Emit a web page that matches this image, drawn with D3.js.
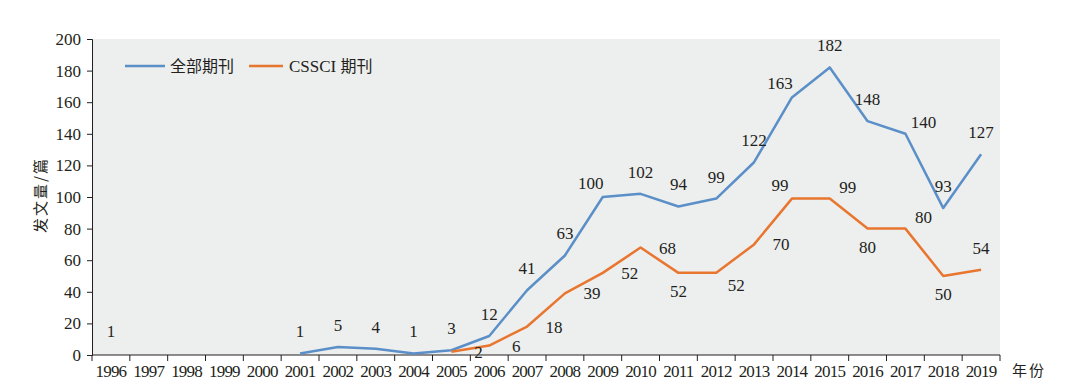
<!DOCTYPE html>
<html lang="zh">
<head>
<meta charset="UTF-8">
<title>发文量</title>
<style>
  body { margin: 0; background: #fff; }
  .chart text { font-family: "Liberation Serif", "Noto Sans CJK SC", serif; fill: #231f20; }
  .axis path, .axis line { stroke: #231f20; }
</style>
</head>
<body>
<svg class="chart"></svg>
<script src="https://d3js.org/d3.v7.min.js"></script>
<script>
// years on the x axis
var years = ["1996","1997","1998","1999","2000","2001","2002","2003","2004","2005","2006","2007",
             "2008","2009","2010","2011","2012","2013","2014","2015","2016","2017","2018","2019"];
// 全部期刊 (null = no data)
var allJournals = [1, null, null, null, null, 1, 5, 4, 1, 3, 12, 41, 63, 100, 102, 94, 99, 122, 163, 182, 148, 140, 93, 127];
// CSSCI 期刊
var cssciJournals = [null, null, null, null, null, null, null, null, null, 2, 6, 18, 39, 52, 68, 52, 52, 70, 99, 99, 80, 80, 50, 54];
var yTicks = [0, 20, 40, 60, 80, 100, 120, 140, 160, 180, 200];

// where each value label sits relative to its point
var allPlace = ["a","","","","","a","a","a","a","a","a","a","a","al","a","a","a","a","al","a","a","ar","a","a"];
var cssciPlace = ["","","","","","","","","","r","r","r","r","r","r","b","rb","r","al","ar","b","ar","b","a"];

var width = 1079, height = 389;
var margin = {left: 92, right: 79, top: 39, bottom: 34};

var svg = d3.select(".chart").attr("width", width).attr("height", height);

var x = d3.scaleBand().domain(years).range([margin.left, width - margin.right]);
var y = d3.scaleLinear().domain([0, 200]).range([height - margin.bottom, margin.top]);

svg.append("rect")
    .attr("x", margin.left).attr("y", margin.top)
    .attr("width", x.range()[1] - margin.left)
    .attr("height", y(0) - margin.top)
    .attr("fill", "#edeeee");

// y axis
var yAxis = svg.append("g").attr("class", "axis")
    .attr("transform", "translate(" + margin.left + ",0)")
    .call(d3.axisLeft(y).tickValues(yTicks).tickSize(5).tickPadding(6));
yAxis.selectAll("text").style("font-size", "17px");

// x axis, ticks at band boundaries
var xAxis = svg.append("g").attr("class", "axis")
    .attr("transform", "translate(0," + y(0) + ")");
xAxis.append("line").attr("x1", margin.left).attr("x2", x.range()[1]).attr("stroke", "#231f20");
var bounds = years.map(function(d) { return x(d); }).concat([x.range()[1]]);
xAxis.selectAll(".tk").data(bounds).enter().append("line")
    .attr("x1", function(d) { return d; }).attr("x2", function(d) { return d; })
    .attr("y1", 0).attr("y2", 6).attr("stroke", "#231f20");
xAxis.selectAll(".lb").data(years).enter().append("text")
    .attr("x", function(d) { return x(d) + x.bandwidth() / 2; })
    .attr("y", 22).attr("text-anchor", "middle")
    .style("font-size", "17px").style("letter-spacing", "-0.8px")
    .text(function(d) { return d; });

svg.append("text")
    .attr("transform", "translate(46,195) rotate(-90)")
    .attr("text-anchor", "middle").style("font-size", "15px")
    .style("font-family", "'Noto Sans CJK SC'").style("letter-spacing", "2px")
    .text("发文量/篇");
svg.append("text")
    .attr("x", 1012).attr("y", 376).style("font-size", "15px")
    .style("font-family", "'Noto Sans CJK SC'").style("letter-spacing", "2px")
    .text("年份");

var cx = function(i) { return x(years[i]) + x.bandwidth() / 2; };
var line = d3.line()
    .defined(function(d) { return d != null; })
    .x(function(d, i) { return cx(i); })
    .y(function(d) { return y(d); });

function drawSeries(values, color) {
  svg.append("path").datum(values)
      .attr("fill", "none").attr("stroke", color).attr("stroke-width", 2.5)
      .attr("stroke-linejoin", "round").attr("d", line);
}

function drawLabels(values, place) {
  values.forEach(function(d, i) {
    if (d == null) return;
    var p = place[i], dx = 0, dy = -16;
    if (p === "r") { dx = 27; dy = 6; }
    if (p === "b") { dx = 0; dy = 24; }
    if (p === "rb") { dx = 20; dy = 18; }
    if (p === "ar") { dx = 18; dy = -6; }
    if (p === "al") { dx = -12; dy = -8; }
    svg.append("text")
        .attr("x", cx(i) + dx).attr("y", y(d) + dy)
        .attr("text-anchor", "middle").style("font-size", "17px")
        .text(d);
  });
}

drawSeries(allJournals, "#5b8fc8");
drawSeries(cssciJournals, "#e8762f");
drawLabels(allJournals, allPlace);
drawLabels(cssciJournals, cssciPlace);

// legend
var legend = svg.append("g");
legend.append("line").attr("x1", 125).attr("x2", 165).attr("y1", 66).attr("y2", 66)
    .attr("stroke", "#5b8fc8").attr("stroke-width", 2.5);
legend.append("text").attr("x", 170).attr("y", 72).style("font-size", "16px")
    .style("font-family", "'Noto Sans CJK SC'").text("全部期刊");
legend.append("line").attr("x1", 249).attr("x2", 283).attr("y1", 66).attr("y2", 66)
    .attr("stroke", "#e8762f").attr("stroke-width", 2.5);
legend.append("text").attr("x", 289).attr("y", 72).style("font-size", "17px")
    .text("CSSCI ").append("tspan").style("font-family", "'Noto Sans CJK SC'").style("font-size", "16px").text("期刊");
</script>
</body>
</html>
